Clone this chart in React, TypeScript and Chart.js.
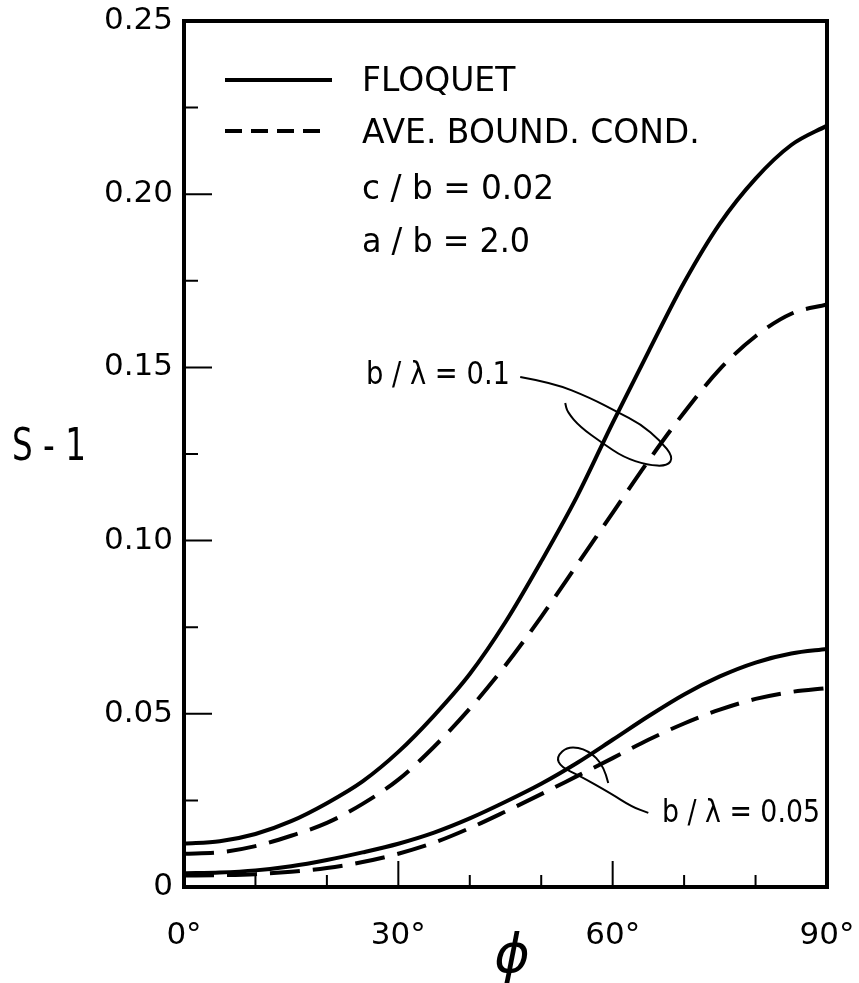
import React, { useEffect, useRef } from 'react';
import { Chart, registerables } from 'chart.js';

Chart.register(...registerables);

const FONT = 'DejaVu Sans';

// phi in degrees
const angles = [0, 5, 10, 15, 20, 25, 30, 35, 40, 45, 50, 55, 60, 65, 70, 75, 80, 85, 90];

// b/lambda = 0.1
const floquet01 = [0.0125, 0.0132, 0.0153, 0.019, 0.0242, 0.0305, 0.039, 0.0495, 0.0615, 0.0765, 0.094, 0.1127, 0.134, 0.1545, 0.1745, 0.1915, 0.2045, 0.2142, 0.2198];
const abc01 = [0.0096, 0.01, 0.0118, 0.0148, 0.0185, 0.024, 0.031, 0.0405, 0.0515, 0.064, 0.078, 0.093, 0.108, 0.123, 0.137, 0.1495, 0.159, 0.1655, 0.1682];

// b/lambda = 0.05
const floquet005 = [0.004, 0.0042, 0.0048, 0.006, 0.0078, 0.01, 0.0125, 0.0157, 0.0198, 0.0246, 0.0298, 0.0358, 0.0425, 0.0493, 0.0556, 0.0608, 0.0648, 0.0674, 0.0687];
const abc005 = [0.0033, 0.0034, 0.0037, 0.0044, 0.0055, 0.0072, 0.0096, 0.0128, 0.017, 0.0218, 0.0268, 0.032, 0.0372, 0.0425, 0.0472, 0.0512, 0.0543, 0.0563, 0.0574];

const xTicks = [0, 30, 60, 90];
const xTickLabels = ['0°', '30°', '60°', '90°'];
const xMinorTicks = [10, 20, 40, 50, 70, 80];
const yTicks = [0, 0.05, 0.1, 0.15, 0.2, 0.25];
const yTickLabels = ['0', '0.05', '0.10', '0.15', '0.20', '0.25'];
const yMinorTicks = [0.025, 0.075, 0.125, 0.175, 0.225];

const legendLabels = ['FLOQUET', 'AVE. BOUND. COND.'];
const paramLabels = ['c / b = 0.02', 'a / b = 2.0'];
const curveLabels = ['b / λ = 0.1', 'b / λ = 0.05'];

// annotation loops in data units [deg, value]
const upperLoop = [
  [47.06, 0.1472], [51.68, 0.1455], [56.86, 0.1412], [60.64, 0.1371], [63.87, 0.1337],
  [66.67, 0.1288], [68.49, 0.1241], [67.65, 0.1215], [64.85, 0.1218], [61.48, 0.1241],
  [58.54, 0.1282], [55.46, 0.1328], [53.64, 0.1371], [53.36, 0.1397],
];
const lowerLoop = [
  [59.38, 0.03], [58.82, 0.0349], [56.58, 0.0395], [53.78, 0.0407], [52.1, 0.0375],
  [52.8, 0.0346], [55.46, 0.032], [59.66, 0.0271], [62.75, 0.0231], [64.99, 0.0214],
];

const toPoints = (vals: number[]) => angles.map((a, i) => ({ x: a, y: vals[i] }));

function smoothPath(ctx: CanvasRenderingContext2D, pts: number[][]) {
  ctx.beginPath();
  ctx.moveTo(pts[0][0], pts[0][1]);
  for (let i = 1; i < pts.length - 1; i++) {
    const mx = (pts[i][0] + pts[i + 1][0]) / 2;
    const my = (pts[i][1] + pts[i + 1][1]) / 2;
    ctx.quadraticCurveTo(pts[i][0], pts[i][1], mx, my);
  }
  const l = pts[pts.length - 1];
  ctx.lineTo(l[0], l[1]);
  ctx.stroke();
}

const decorPlugin = {
  id: 'decor',
  afterDraw(chart: any) {
    const { ctx, chartArea } = chart;
    const xs = chart.scales.x;
    const ys = chart.scales.y;
    const { left, right, top, bottom } = chartArea;
    ctx.save();
    ctx.strokeStyle = '#000';
    ctx.fillStyle = '#000';
    ctx.lineCap = 'butt';
    // frame
    ctx.lineWidth = 4;
    ctx.strokeRect(left, top, right - left, bottom - top);
    // inward ticks
    ctx.lineWidth = 2;
    ctx.beginPath();
    yTicks.forEach((v) => {
      if (v === 0 || v === 0.25) return;
      const y = ys.getPixelForValue(v);
      ctx.moveTo(left, y);
      ctx.lineTo(left + 28, y);
    });
    yMinorTicks.forEach((v) => {
      const y = ys.getPixelForValue(v);
      ctx.moveTo(left, y);
      ctx.lineTo(left + 14, y);
    });
    xTicks.forEach((v) => {
      if (v === 0 || v === 90) return;
      const x = xs.getPixelForValue(v);
      ctx.moveTo(x, bottom);
      ctx.lineTo(x, bottom - 26);
    });
    xMinorTicks.forEach((v) => {
      const x = xs.getPixelForValue(v);
      ctx.moveTo(x, bottom);
      ctx.lineTo(x, bottom - 12);
    });
    ctx.stroke();

    // axis titles
    ctx.textBaseline = 'middle';
    ctx.textAlign = 'left';
    ctx.font = `44px "${FONT}"`;
    ctx.fillText('S - 1', 12, 449, 74);
    ctx.textAlign = 'center';
    ctx.font = `italic 54px "${FONT}"`;
    ctx.fillText('ϕ', 512, 958);

    // legend
    ctx.lineWidth = 4;
    ctx.beginPath();
    ctx.moveTo(left + 41, 80);
    ctx.lineTo(left + 148, 80);
    ctx.stroke();
    ctx.setLineDash([17, 9]);
    ctx.beginPath();
    ctx.moveTo(left + 41, 131);
    ctx.lineTo(left + 143, 131);
    ctx.stroke();
    ctx.setLineDash([]);
    ctx.textAlign = 'left';
    ctx.font = `33px "${FONT}"`;
    ctx.fillText(legendLabels[0], 362, 82, 156);
    ctx.fillText(legendLabels[1], 362, 134, 342);
    ctx.fillText(paramLabels[0], 362, 190, 192);
    ctx.fillText(paramLabels[1], 362, 243, 168);

    // curve labels
    ctx.font = `32px "${FONT}"`;
    ctx.fillText(curveLabels[0], 366, 376, 144);
    ctx.fillText(curveLabels[1], 662, 814, 158);

    // loops
    ctx.lineWidth = 2;
    const toPx = (p: number[]) => [xs.getPixelForValue(p[0]), ys.getPixelForValue(p[1])];
    smoothPath(ctx, upperLoop.map(toPx));
    smoothPath(ctx, lowerLoop.map(toPx));
    ctx.restore();
  },
};

export default function App() {
  const ref = useRef<HTMLCanvasElement>(null);
  useEffect(() => {
    if (!ref.current) return;
    const solid = { borderColor: '#000', borderWidth: 4, pointRadius: 0, fill: false, cubicInterpolationMode: 'monotone' as const };
    const dashed = { ...solid, borderDash: [30, 13] };
    const chart = new Chart(ref.current, {
      type: 'line',
      data: {
        datasets: [
          { label: 'FLOQUET b/λ=0.1', data: toPoints(floquet01), ...solid },
          { label: 'ABC b/λ=0.1', data: toPoints(abc01), ...dashed },
          { label: 'FLOQUET b/λ=0.05', data: toPoints(floquet005), ...solid },
          { label: 'ABC b/λ=0.05', data: toPoints(abc005), ...dashed },
        ],
      },
      options: {
        responsive: false,
        animation: false,
        layout: { padding: { left: 0, right: 32, top: 21, bottom: 0 } },
        plugins: { legend: { display: false }, tooltip: { enabled: false } },
        scales: {
          x: {
            type: 'linear',
            min: 0,
            max: 90,
            afterBuildTicks: (s: any) => {
              s.ticks = xTicks.map((v) => ({ value: v }));
            },
            afterFit: (s: any) => {
              s.height = 96;
              s.paddingLeft = 0;
              s.paddingRight = 0;
            },
            ticks: {
              autoSkip: false,
              maxRotation: 0,
              padding: 30,
              color: '#000',
              font: { family: FONT, size: 31 },
              callback: (v: any) => xTickLabels[xTicks.indexOf(Number(v))] ?? '',
            },
            grid: { display: false, drawTicks: false },
            border: { display: false },
          },
          y: {
            type: 'linear',
            min: 0,
            max: 0.25,
            afterBuildTicks: (s: any) => {
              s.ticks = yTicks.map((v) => ({ value: v }));
            },
            afterFit: (s: any) => {
              s.width = 184;
              s.paddingTop = 0;
              s.paddingBottom = 0;
            },
            ticks: {
              autoSkip: false,
              padding: 11,
              color: '#000',
              font: { family: FONT, size: 31 },
              callback: (v: any) => {
                const i = yTicks.findIndex((t) => Math.abs(t - Number(v)) < 1e-9);
                return i >= 0 ? yTickLabels[i] : '';
              },
            },
            grid: { display: false, drawTicks: false },
            border: { display: false },
          },
        },
      },
      plugins: [decorPlugin],
    });
    return () => chart.destroy();
  }, []);
  return (
    <div style={{ position: 'absolute', left: 0, top: 0, width: 859, height: 983, background: '#fff' }}>
      <canvas ref={ref} width={859} height={983} style={{ display: 'block' }} />
    </div>
  );
}
